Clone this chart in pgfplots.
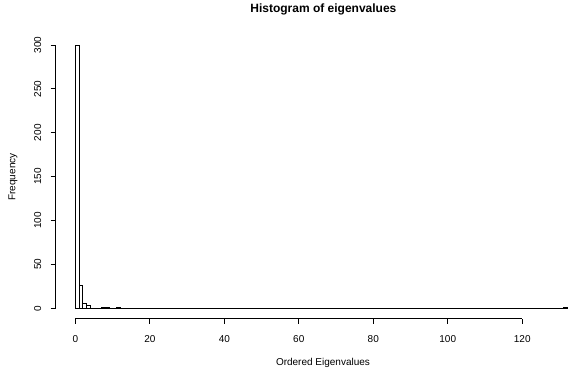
\documentclass[border=0pt]{standalone}
\usepackage{pgfplots}
\pgfplotsset{compat=1.18}
\usepackage{fontspec}
\setmainfont{Liberation Sans}
\begin{document}
\begin{tikzpicture}
\useasboundingbox (0,0) rectangle (569bp,373bp);
\begin{axis}[
  at={(55.7bp,54.2bp)}, anchor=south west,
  scale only axis, width=513.3bp, height=283.5bp,
  xmin=-5.28, xmax=132.56, ymin=-12, ymax=311,
  clip=false,
  axis x line*=bottom, axis y line*=left,
  axis line style={draw=none},
  xtick={0,20,40,60,80,100,120}, ytick={0,50,100,150,200,250,300},
  tick align=outside, major tick length=5bp,
  tick style={black, line width=0.75bp},
  /pgf/number format/assume math mode=true,
  ticklabel style={font=\fontsize{10bp}{12bp}\selectfont},
  yticklabel style={rotate=90, anchor=south},
  yticklabel shift=6bp, xticklabel shift=8bp,
  xlabel={Ordered Eigenvalues}, ylabel={Frequency},
  label style={font=\fontsize{10bp}{12bp}\selectfont},
  xlabel style={at={(axis description cs:0.5207,-0.156)}, anchor=center},
  ylabel style={at={(axis description cs:-0.0832,0.5)}, anchor=center, rotate=0},
  title={Histogram of eigenvalues},
  every axis title shift=0pt,
  title style={font=\fontsize{12bp}{14bp}\selectfont\bfseries, at={(axis description cs:0.5215,1.0804)}, anchor=base},
]
\draw[line width=0.75bp] (axis cs:0,-12) -- (axis cs:120,-12);
\draw[line width=0.75bp] (axis cs:-5.28,0) -- (axis cs:-5.28,300);
\addplot[ybar interval, draw=black, fill=white, line width=0.75bp] table {
x y
0 300
1 26
2 6
3 3
4 0
5 0
6 0
7 1
8 1
9 0
10 0
11 1
12 0
13 0
14 0
15 0
16 0
17 0
18 0
19 0
20 0
21 0
22 0
23 0
24 0
25 0
26 0
27 0
28 0
29 0
30 0
31 0
32 0
33 0
34 0
35 0
36 0
37 0
38 0
39 0
40 0
41 0
42 0
43 0
44 0
45 0
46 0
47 0
48 0
49 0
50 0
51 0
52 0
53 0
54 0
55 0
56 0
57 0
58 0
59 0
60 0
61 0
62 0
63 0
64 0
65 0
66 0
67 0
68 0
69 0
70 0
71 0
72 0
73 0
74 0
75 0
76 0
77 0
78 0
79 0
80 0
81 0
82 0
83 0
84 0
85 0
86 0
87 0
88 0
89 0
90 0
91 0
92 0
93 0
94 0
95 0
96 0
97 0
98 0
99 0
100 0
101 0
102 0
103 0
104 0
105 0
106 0
107 0
108 0
109 0
110 0
111 0
112 0
113 0
114 0
115 0
116 0
117 0
118 0
119 0
120 0
121 0
122 0
123 0
124 0
125 0
126 0
127 0
128 0
129 0
130 0
131 1
132 1
};
\end{axis}
\end{tikzpicture}
\end{document}
